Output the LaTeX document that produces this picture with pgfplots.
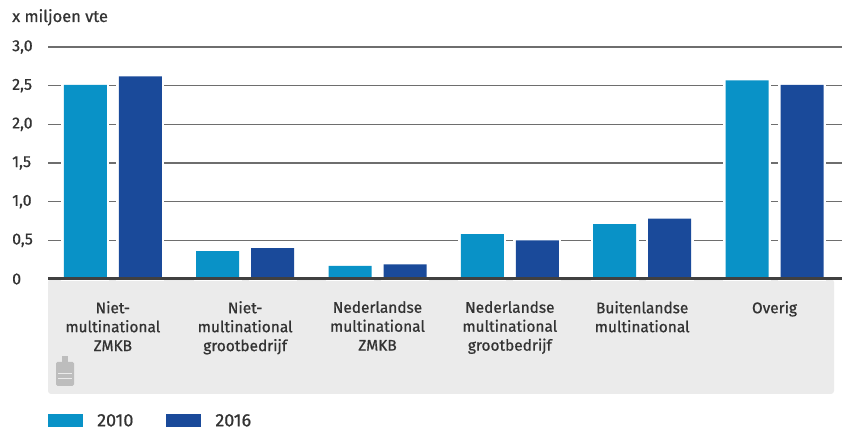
\documentclass[border=0pt]{standalone}
\usepackage{fontspec}
\setmainfont{Fira Sans}[FakeBold=0.8]
\newfontfamily\lbl{Fira Sans}[FakeBold=0.8]
\usepackage{pgfplots}
\pgfplotsset{compat=1.18}
\definecolor{cA}{HTML}{0992C7}
\definecolor{cB}{HTML}{1A4A9A}
\definecolor{band}{HTML}{EBEBEB}
\definecolor{gridc}{HTML}{6E6E6E}
\definecolor{txt}{HTML}{333333}
\definecolor{zero}{HTML}{404040}
\definecolor{logo}{HTML}{BDBDBD}
\begin{document}
\begin{tikzpicture}
\fill[band, rounded corners=3bp] (0bp,0bp) rectangle (786bp,-115bp);
\fill[logo, rounded corners=1.5bp] (8bp,-107bp) rectangle (26bp,-83bp);
\fill[logo] (14bp,-83bp) rectangle (20bp,-77bp);
\draw[band, line width=1bp] (10bp,-95bp) -- (24bp,-95bp) (10bp,-100bp) -- (24bp,-100bp);
\begin{axis}[
  scale only axis, width=794bp, height=232bp,
  xmin=-0.49, xmax=5.51, ymin=0, ymax=3,
  axis line style={draw=none},
  major tick length=0pt,
  ybar=12bp, bar width=43bp,
  ymajorgrids, grid style={gridc, line width=1.5bp},
  ytick={0,0.5,1,1.5,2,2.5,3},
  yticklabels={0,{0,5},{1,0},{1,5},{2,0},{2,5},{3,0}},
  yticklabel style={anchor=west, inner sep=0pt, xshift=-36bp, font=\lbl\fontsize{16}{18}\selectfont, text=txt},
  xtick={0,1,2,3,4,5},
  xticklabels={{Niet-\\multinational\\ZMKB},{Niet-\\multinational\\grootbedrijf},{Nederlandse\\multinational\\ZMKB},{Nederlandse\\multinational\\grootbedrijf},{Buitenlandse\\multinational},{Overig}},
  xticklabel style={align=center, anchor=north, inner sep=0pt, yshift=-22bp, font=\lbl\fontsize{15.5}{19}\selectfont, text=txt},
  clip=false,
  legend columns=2,
  legend style={at={(0,-0.612)}, anchor=west, xshift=-2.5bp, draw=none, fill=none, inner sep=0pt,
    nodes={inner sep=0pt}, font=\lbl\fontsize{18}{20}\selectfont, text=txt,
    /tikz/every odd column/.append style={column sep=11.5bp},
    /tikz/every even column/.append style={column sep=30.5bp}},
  legend image code/.code={\fill[#1, draw=none] (0bp,-6.5bp) rectangle (35bp,6.5bp);},
]
\addplot[fill=cA, draw=none, preaction={draw=white, line width=5bp}] coordinates {(0,2.51) (1,0.36) (2,0.17) (3,0.58) (4,0.71) (5,2.57)};
\addplot[fill=cB, draw=none, preaction={draw=white, line width=5bp}] coordinates {(0,2.62) (1,0.40) (2,0.19) (3,0.50) (4,0.78) (5,2.51)};
\legend{2010,2016}
\draw[zero, line width=3bp] (rel axis cs:0,0) -- (rel axis cs:1,0);
\end{axis}
\node[anchor=base west, inner sep=0pt, font=\lbl\fontsize{16.5}{18}\selectfont, text=txt] at (-36bp,257bp) {x miljoen vte};
\path[use as bounding box] (-48bp,-150bp) rectangle (798bp,279bp);
\end{tikzpicture}
\end{document}
